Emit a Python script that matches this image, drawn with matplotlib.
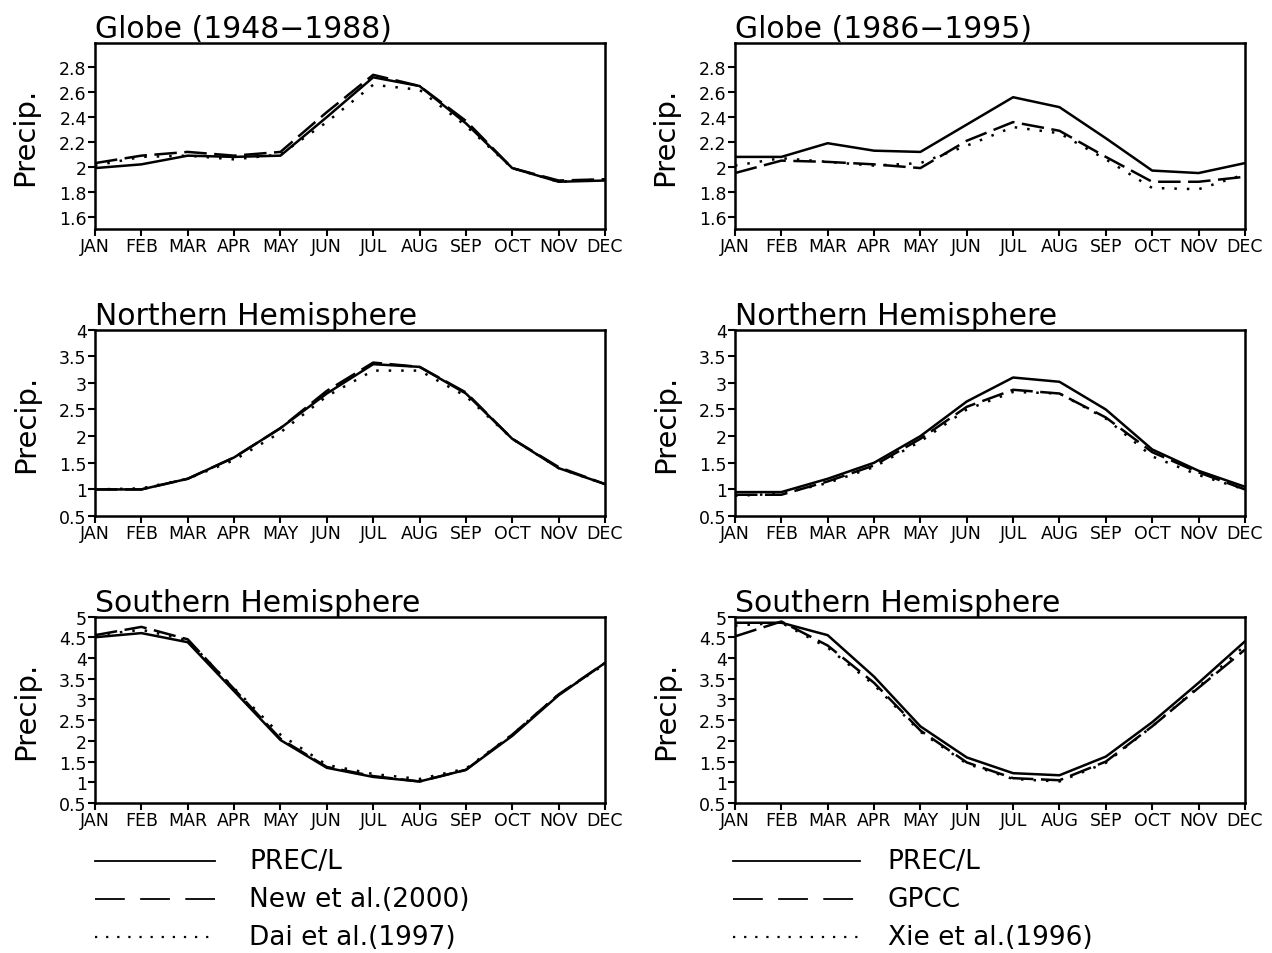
import matplotlib
matplotlib.use("Agg")
import matplotlib.pyplot as plt
from matplotlib.lines import Line2D
import numpy as np

months = ["JAN", "FEB", "MAR", "APR", "MAY", "JUN", "JUL", "AUG", "SEP", "OCT", "NOV", "DEC"]

# Globe (1948-1988)
glb1_prec = [1.99, 2.02, 2.09, 2.08, 2.09, 2.40, 2.72, 2.65, 2.35, 1.99, 1.88, 1.89]
glb1_new = [2.03, 2.09, 2.12, 2.09, 2.12, 2.44, 2.74, 2.65, 2.37, 1.99, 1.89, 1.90]
glb1_dai = [2.01, 2.08, 2.09, 2.06, 2.10, 2.36, 2.66, 2.62, 2.33, 1.99, 1.88, 1.90]
# Globe (1986-1995)
glb2_prec = [2.08, 2.08, 2.19, 2.13, 2.12, 2.34, 2.56, 2.48, 2.23, 1.97, 1.95, 2.03]
glb2_gpcc = [1.95, 2.05, 2.04, 2.02, 1.99, 2.21, 2.36, 2.29, 2.08, 1.88, 1.88, 1.92]
glb2_xie = [2.01, 2.07, 2.04, 2.01, 2.03, 2.17, 2.32, 2.27, 2.06, 1.83, 1.82, 1.94]
# Northern Hemisphere
nh1_prec = [1.00, 1.00, 1.20, 1.60, 2.15, 2.80, 3.35, 3.30, 2.80, 1.95, 1.40, 1.10]
nh1_new = [1.00, 1.00, 1.20, 1.60, 2.15, 2.85, 3.38, 3.30, 2.82, 1.95, 1.42, 1.10]
nh1_dai = [1.00, 1.02, 1.20, 1.55, 2.07, 2.75, 3.23, 3.23, 2.75, 1.95, 1.40, 1.10]
nh2_prec = [0.95, 0.95, 1.20, 1.50, 2.00, 2.65, 3.10, 3.02, 2.50, 1.75, 1.35, 1.05]
nh2_gpcc = [0.90, 0.90, 1.15, 1.45, 1.95, 2.55, 2.87, 2.80, 2.35, 1.70, 1.32, 1.00]
nh2_xie = [0.88, 0.92, 1.12, 1.42, 1.90, 2.50, 2.83, 2.80, 2.33, 1.62, 1.27, 1.00]
# Southern Hemisphere
sh1_prec = [4.50, 4.60, 4.38, 3.20, 2.02, 1.35, 1.13, 1.02, 1.30, 2.12, 3.10, 3.88]
sh1_new = [4.55, 4.75, 4.45, 3.25, 2.05, 1.37, 1.15, 1.02, 1.30, 2.15, 3.12, 3.88]
sh1_dai = [4.55, 4.68, 4.43, 3.27, 2.15, 1.42, 1.20, 1.08, 1.33, 2.15, 3.12, 3.85]
sh2_prec = [4.85, 4.85, 4.55, 3.55, 2.35, 1.60, 1.22, 1.17, 1.62, 2.45, 3.40, 4.40]
sh2_gpcc = [4.52, 4.88, 4.30, 3.40, 2.25, 1.48, 1.10, 1.05, 1.50, 2.35, 3.28, 4.20]
sh2_xie = [4.78, 4.85, 4.25, 3.35, 2.22, 1.45, 1.08, 1.02, 1.47, 2.35, 3.30, 4.30]

titles = ["Globe (1948\u22121988)", "Globe (1986\u22121995)",
          "Northern Hemisphere", "Northern Hemisphere",
          "Southern Hemisphere", "Southern Hemisphere"]
left_names = ["PREC/L", "New et al.(2000)", "Dai et al.(1997)"]
right_names = ["PREC/L", "GPCC", "Xie et al.(1996)"]

panels = [
    (glb1_prec, glb1_new, glb1_dai),
    (glb2_prec, glb2_gpcc, glb2_xie),
    (nh1_prec, nh1_new, nh1_dai),
    (nh2_prec, nh2_gpcc, nh2_xie),
    (sh1_prec, sh1_new, sh1_dai),
    (sh2_prec, sh2_gpcc, sh2_xie),
]

ylims = [(1.5, 3.0), (1.5, 3.0), (0.5, 4.0), (0.5, 4.0), (0.5, 5.0), (0.5, 5.0)]
yticks = [np.arange(1.6, 2.81, 0.2), np.arange(1.6, 2.81, 0.2),
          np.arange(0.5, 4.01, 0.5), np.arange(0.5, 4.01, 0.5),
          np.arange(0.5, 5.01, 0.5), np.arange(0.5, 5.01, 0.5)]

styles = [dict(ls="-"), dict(ls=(0, (9, 3))), dict(ls=(0, (1, 4)))]
leg_styles = [dict(ls="-", lw=1.3), dict(ls=(0, (16.5, 8.5)), lw=1.3), dict(ls=(0, (1, 4)), lw=1.6)]

narrow = ["Liberation Sans Narrow", "DejaVu Sans"]
fig = plt.figure(figsize=(12.72, 9.54), dpi=100)

lefts = [0.0747, 0.5778]
width = 0.4009
bottoms = [0.7589, 0.4580, 0.1572]
height = 0.1955

x = np.arange(12)
for i, data in enumerate(panels):
    r, c = divmod(i, 2)
    ax = fig.add_axes([lefts[c], bottoms[r], width, height])
    for d, st in zip(data, styles):
        ax.plot(x, d, color="black", lw=1.8, **st)
    ax.set_xlim(0, 11)
    ax.set_ylim(*ylims[i])
    ax.set_xticks(x)
    ax.set_xticklabels(months, family=narrow, fontsize=12.5)
    ax.set_yticks(yticks[i])
    ax.set_yticklabels(["%g" % round(v, 1) for v in yticks[i]], family=narrow, fontsize=12.5)
    ax.tick_params(direction="out", length=5, width=1.5, pad=1)
    for s in ax.spines.values():
        s.set_linewidth(1.8)
    ax.set_ylabel("Precip.", fontsize=21, labelpad=14)
    ax.set_title(titles[i], loc="left", fontsize=21.5, pad=2)

# legends drawn as separate line keys
for c, names in enumerate([left_names, right_names]):
    xs = [[0.0747, 0.169], [0.5762, 0.676]][c]
    tx = [0.196, 0.698][c]
    for k, (nm, st) in enumerate(zip(names, leg_styles)):
        y = 1 - (862 + 38 * k) / 954
        fig.add_artist(Line2D(xs, [y, y], color="black", transform=fig.transFigure, **st))
        fig.text(tx, y, nm, family=narrow, fontsize=19, va="center")

fig.savefig("out.png", dpi=100)
